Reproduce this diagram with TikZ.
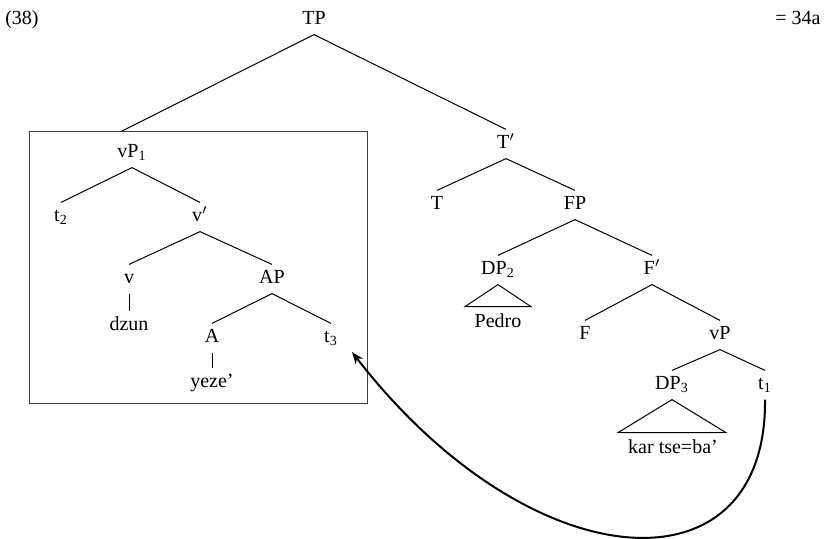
\documentclass[tikz,border=0pt]{standalone}
\usepackage{fontspec}
\setmainfont{Liberation Serif}
\usetikzlibrary{arrows.meta}
\begin{document}
\begin{tikzpicture}[x=0.5pt, y=-0.5pt, line width=0.5pt,
  every node/.style={inner sep=2.3pt, text height=7pt, text depth=2.5pt},
  movement/.style={line width=1pt, -{Stealth[length=6pt, width=4.6pt]}}]
\useasboundingbox (0,0) rectangle (824,538);
\node (exnum) at (22,20) {(38)};
\node (exref) at (798,20) {= 34a};
\node (TP) at (314,20) {TP};
\draw[draw=black!75] (29,131) rectangle (367,403);
\coordinate (boxtop) at (122,131);
\node (vP1) at (132,153) {vP\textsubscript{1}};
\node (t2) at (61,217) {t\textsubscript{2}};
\node (vbar) at (200,217) {v$'$};
\node (v) at (129,279) {v};
\node (AP) at (272,279) {AP};
\node (dzun) at (129,326) {dzun};
\node (A) at (212,338) {A};
\node (t3) at (331,338) {t\textsubscript{3}};
\node (yeze) at (212,383) {yeze’};
\node (Tbar) at (506,144) {T$'$};
\node (T) at (437,205) {T};
\node (FP) at (575,205) {FP};
\node (DP2) at (498,270) {DP\textsubscript{2}};
\node (Pedro) at (498,323) {Pedro};
\node (Fbar) at (652,270) {F$'$};
\node (F) at (585,335) {F};
\node (vP) at (720,335) {vP};
\node (DP3) at (672,385) {DP\textsubscript{3}};
\node (t1) at (765,385) {t\textsubscript{1}};
\node (kar) at (673,449) {kar tse=ba’};
\draw (TP.south) -- (boxtop) (TP.south) -- (Tbar.north);
\draw (vP1.south) -- (t2.north) (vP1.south) -- (vbar.north);
\draw (vbar.south) -- (v.north) (vbar.south) -- (AP.north);
\draw (v.south) -- (dzun.north);
\draw (AP.south) -- (A.north) (AP.south) -- (t3.north);
\draw (A.south) -- (yeze.north);
\draw (Tbar.south) -- (T.north) (Tbar.south) -- (FP.north);
\draw (FP.south) -- (DP2.north) (FP.south) -- (Fbar.north);
\draw (DP2.south) -- ++(-33,22) -- ++(66,0) -- cycle;
\draw (Fbar.south) -- (F.north) (Fbar.south) -- (vP.north);
\draw (vP.south) -- (DP3.north) (vP.south) -- (t1.north);
\draw (DP3.south) -- ++(-54,33) -- ++(108,0) -- cycle;
\draw[movement] (t1.south) .. controls (767,598) and (530,582) .. (352,352);
\end{tikzpicture}
\end{document}
